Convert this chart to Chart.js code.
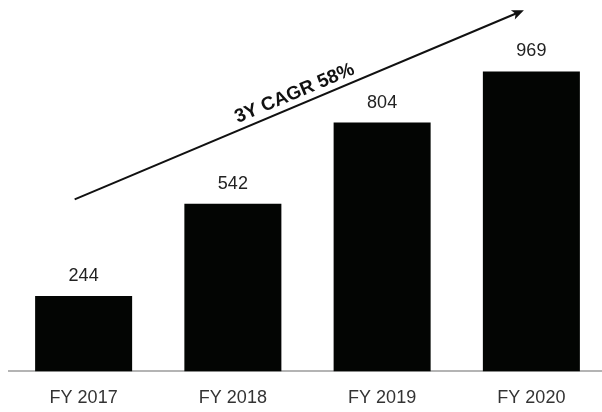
<!DOCTYPE html>
<html>
<head>
<meta charset="utf-8">
<script src="https://cdn.jsdelivr.net/npm/chart.js@4.4.0/dist/chart.umd.min.js"></script>
<style>
  html, body { margin: 0; padding: 0; background: #fff; overflow: hidden; }
  #wrap { width: 606px; height: 425px; }
</style>
</head>
<body>
<div id="wrap"><canvas id="myChart"></canvas></div>
<script>
const categories = ['FY 2017', 'FY 2018', 'FY 2019', 'FY 2020'];
const revenue = [244, 542, 804, 969];
const cagrLabel = '3Y CAGR 58%';
// arrow ends in data space: [category index, value]
const arrowFrom = [-0.06, 556];
const arrowTo = [2.95, 1167];

const valueLabels = {
  id: 'valueLabels',
  afterDatasetsDraw(chart) {
    const ctx = chart.ctx;
    const meta = chart.getDatasetMeta(0);
    ctx.save();
    ctx.font = '18px "Liberation Sans", Arial, sans-serif';
    ctx.fillStyle = '#222';
    ctx.textAlign = 'center';
    ctx.textBaseline = 'middle';
    meta.data.forEach((bar, i) => {
      ctx.fillText(String(revenue[i]), bar.x, bar.y - 20);
    });
    ctx.restore();
  }
};

const cagrArrow = {
  id: 'cagrArrow',
  afterDatasetsDraw(chart) {
    const ctx = chart.ctx;
    const xs = chart.scales.x, ys = chart.scales.y;
    const x1 = xs.getPixelForValue(arrowFrom[0]), y1 = ys.getPixelForValue(arrowFrom[1]);
    const x2 = xs.getPixelForValue(arrowTo[0]), y2 = ys.getPixelForValue(arrowTo[1]);
    const ang = Math.atan2(y2 - y1, x2 - x1);
    ctx.save();
    ctx.strokeStyle = '#111';
    ctx.fillStyle = '#111';
    ctx.lineWidth = 2;
    ctx.beginPath();
    ctx.moveTo(x1, y1);
    ctx.lineTo(x2 - 6 * Math.cos(ang), y2 - 6 * Math.sin(ang));
    ctx.stroke();
    // head
    ctx.translate(x2, y2);
    ctx.rotate(ang);
    ctx.beginPath();
    ctx.moveTo(0, 0);
    ctx.lineTo(-12, -5);
    ctx.lineTo(-9, 0);
    ctx.lineTo(-12, 5);
    ctx.closePath();
    ctx.fill();
    ctx.restore();

    // label along the arrow
    const t = 0.5;
    const mx = x1 + (x2 - x1) * t, my = y1 + (y2 - y1) * t;
    ctx.save();
    ctx.translate(mx, my);
    ctx.rotate(ang);
    ctx.font = 'bold 19px "Liberation Sans", Arial, sans-serif';
    ctx.fillStyle = '#111';
    ctx.textAlign = 'center';
    ctx.textBaseline = 'alphabetic';
    ctx.fillText(cagrLabel, 0, -7);
    ctx.restore();
  }
};

const ctx = document.getElementById('myChart').getContext('2d');
const myChart = new Chart(ctx, {
  type: 'bar',
  data: {
    labels: categories,
    datasets: [{
      data: revenue,
      backgroundColor: '#030503',
      barPercentage: 0.65,
      categoryPercentage: 1.0
    }]
  },
  options: {
    responsive: true,
    maintainAspectRatio: false,
    animation: false,
    layout: { padding: { left: 9, right: 0, top: 0, bottom: 0 } },
    scales: {
      x: {
        grid: { display: false, drawTicks: false },
        border: { display: true, color: '#b4b4b4', width: 2 },
        ticks: {
          color: '#333',
          padding: 16,
          font: { size: 18, family: '"Liberation Sans", Arial, sans-serif' }
        }
      },
      y: {
        display: false,
        min: 0,
        max: 1200
      }
    },
    plugins: {
      legend: { display: false },
      tooltip: { enabled: false }
    }
  },
  plugins: [valueLabels, cagrArrow]
});
</script>
</body>
</html>
